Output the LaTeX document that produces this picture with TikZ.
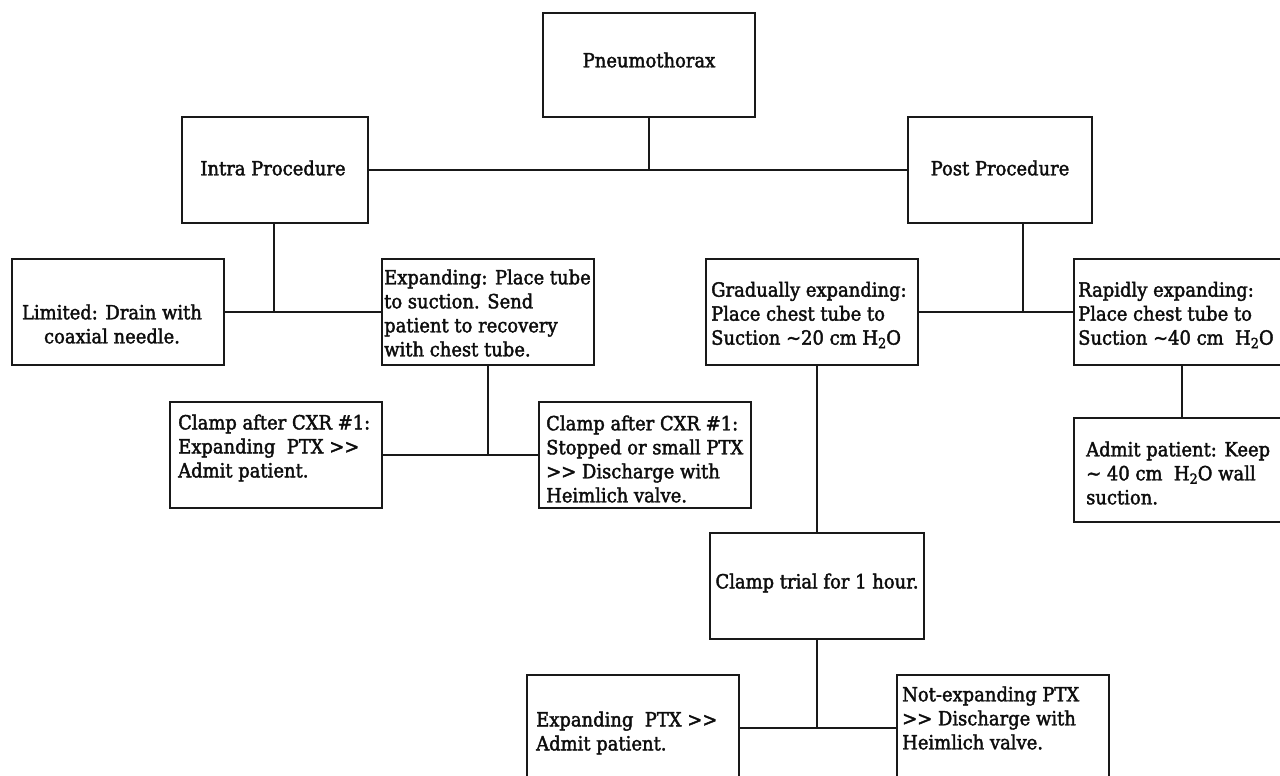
\documentclass[tikz,border=0pt]{standalone}
\usepackage{fontspec}
\setmainfont{DejaVu Serif}[FakeStretch=0.92, FakeBold=2]
\newcommand\htwo{H\raisebox{-0.35ex}{\fontsize{14}{14}\selectfont 2}O}
\newcommand\gtgt{>\kern0pt>}
\tikzset{
  box/.style={draw=black!90, line width=2pt, rectangle, inner sep=0pt},
  txt/.style={inner sep=0pt, font=\fontsize{19.5}{24}\selectfont, text=black!95},
  conn/.style={draw=black!90, line width=2pt},
}
\begin{document}
\begin{tikzpicture}[x=1pt,y=-1pt]
\useasboundingbox (0,0) rectangle (1280,776);
\clip (0,0) rectangle (1280,776);
\fill[white] (0,0) rectangle (1280,776);
% boxes
\node[box, minimum width=212, minimum height=104] (pn) at (649,65) {};
\node[box, minimum width=186, minimum height=106] (intra) at (275,170) {};
\node[box, minimum width=184, minimum height=106] (post) at (1000,170) {};
\node[box, minimum width=212, minimum height=106] (lim) at (118,312) {};
\node[box, minimum width=212, minimum height=106] (exp) at (488,312) {};
\node[box, minimum width=212, minimum height=106] (grad) at (812,312) {};
\node[box, minimum width=216, minimum height=106] (rap) at (1182,312) {};
\node[box, minimum width=212, minimum height=106] (clampL) at (276,455) {};
\node[box, minimum width=212, minimum height=106] (clampR) at (645,455) {};
\node[box, minimum width=216, minimum height=104] (admit) at (1182,470) {};
\node[box, minimum width=214, minimum height=106] (trial) at (817,586) {};
\node[box, minimum width=212, minimum height=116] (expPTX) at (633,733) {};
\node[box, minimum width=212, minimum height=116] (notexp) at (1003,733) {};
% texts
\node[txt] (t-pn) at (649,60) {Pneumothorax};
\node[txt] (t-intra) at (273,168) {Intra Procedure};
\node[txt] (t-post) at (1000,168) {Post Procedure};
\node[txt, align=center] (t-lim) at (112,324) {Limited: Drain with\\coaxial needle.};
\node[txt, anchor=west, align=left] (t-exp) at (384,313) {Expanding: Place tube\\to suction. Send\\patient to recovery\\with chest tube.};
\node[txt, anchor=west, align=left] (t-grad) at (711,315) {Gradually expanding:\\Place chest tube to\\Suction \textasciitilde20 cm \htwo};
\node[txt, anchor=west, align=left] (t-rap) at (1078,315) {Rapidly expanding:\\Place chest tube to\\Suction \textasciitilde40 cm~~\htwo};
\node[txt, anchor=west, align=left] (t-clampL) at (178,448) {Clamp after CXR \#1:\\Expanding~~PTX \gtgt\\Admit patient.};
\node[txt, anchor=west, align=left] (t-clampR) at (546,459) {Clamp after CXR \#1:\\Stopped or small PTX\\\gtgt{} Discharge with\\Heimlich valve.};
\node[txt, anchor=west, align=left] (t-admit) at (1086,473) {Admit patient: Keep\\\textasciitilde{} 40 cm~~\htwo{} wall\\suction.};
\node[txt] (t-trial) at (817,583) {Clamp trial for 1 hour.};
\node[txt, anchor=west, align=left] (t-exptx) at (536,733) {Expanding~~PTX \gtgt\\Admit patient.};
\node[txt, anchor=west, align=left] (t-notexp) at (902,718) {Not-expanding PTX\\\gtgt{} Discharge with\\Heimlich valve.};
% junctions
\coordinate (j1) at (274,312);
\coordinate (j2) at (1023,312);
\coordinate (j3) at (817,728);
% connectors
\draw[conn] (intra.east) -- (post.west);
\draw[conn] (pn.south) -- (pn.south |- intra.east);
\draw[conn] (lim.east |- j1) -- (exp.west |- j1);
\draw[conn] (intra.south -| j1) -- (j1);
\draw[conn] (clampL.east) -- (clampR.west);
\draw[conn] (exp.south) -- (exp.south |- clampL.east);
\draw[conn] (grad.east |- j2) -- (rap.west |- j2);
\draw[conn] (post.south -| j2) -- (j2);
\draw[conn] (rap.south) -- (admit.north);
\draw[conn] (trial.north) -- (trial.north |- grad.south);
\draw[conn] (trial.south) -- (j3);
\draw[conn] (expPTX.east |- j3) -- (notexp.west |- j3);
\end{tikzpicture}
\end{document}
